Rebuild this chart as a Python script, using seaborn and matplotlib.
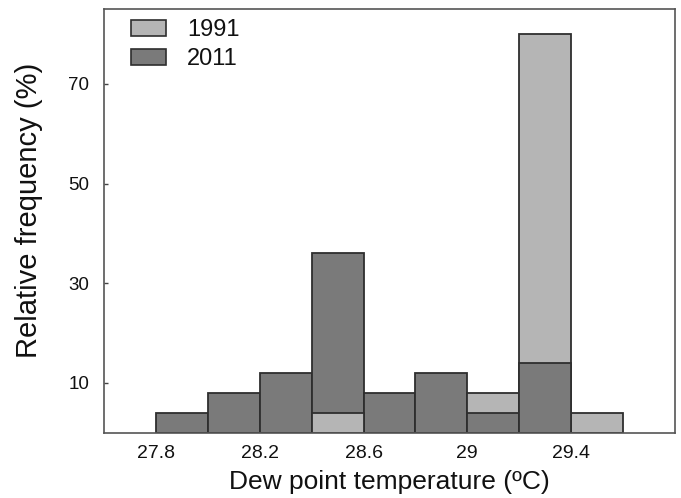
import numpy as np
import pandas as pd
import matplotlib
matplotlib.use("Agg")
import matplotlib.pyplot as plt
from matplotlib.patches import Patch
import seaborn as sns

# ---- data ----
bin_left = [27.8, 28.0, 28.2, 28.4, 28.6, 28.8, 29.0, 29.2, 29.4]
bin_width = 0.2
freq_1991 = [0, 0, 0, 4, 0, 0, 8, 80, 4]
freq_2011 = [4, 8, 12, 36, 8, 12, 4, 14, 0]
years = ["1991", "2011"]
xticks = [27.8, 28.2, 28.6, 29.0, 29.4]
xtick_labels = ["27.8", "28.2", "28.6", "29", "29.4"]
yticks = [10, 30, 50, 70]

light = "#b5b5b5"
dark = "#7a7a7a"
edge = "#2e2e2e"

sns.set_style("white")
plt.rcParams["font.family"] = ["Liberation Sans", "DejaVu Sans"]

rows = []
for i, b in enumerate(bin_left):
    vals = {"1991": freq_1991[i], "2011": freq_2011[i]}
    order = sorted(years, key=lambda y: -vals[y])  # taller in back
    for layer, y in enumerate(order):
        if vals[y] > 0:
            rows.append({"center": b + bin_width / 2, "year": y,
                         "value": vals[y], "layer": layer})
df = pd.DataFrame(rows)
edges = bin_left + [bin_left[-1] + bin_width]

fig = plt.figure(figsize=(6.81, 4.98), dpi=100)
ax = fig.add_axes([104.3 / 681, 1 - 432.5 / 498, (674.7 - 104.3) / 681, (432.5 - 9.3) / 498])

pal = {"1991": light, "2011": dark}
for layer in [0, 1]:
    sub = df[df["layer"] == layer]
    sns.histplot(data=sub, x="center", weights="value", hue="year",
                 hue_order=years, palette=pal, bins=edges, multiple="layer",
                 alpha=1, edgecolor=edge, linewidth=1.3, legend=False, ax=ax)

ax.set_xlim(27.6, 29.8)
ax.set_ylim(0, 85)
ax.set_xticks(xticks)
ax.set_xticklabels(xtick_labels)
ax.set_yticks(yticks)
ax.tick_params(axis="x", length=0, pad=9, labelsize=14, colors="#111111")
ax.tick_params(axis="y", direction="in", length=3, width=1, pad=11,
               labelsize=13.5, colors="#444444", labelcolor="#111111", left=True)
ax.set_xlabel("Dew point temperature (ºC)", fontsize=19, color="#111111", labelpad=6)
ax.set_ylabel("Relative frequency (%)", fontsize=21, color="#111111")
ax.yaxis.set_label_coords(-0.107, 0.526)
for s in ax.spines.values():
    s.set_color("#555555")
    s.set_linewidth(1.2)
    s.set_visible(True)

handles = [Patch(facecolor=pal[y], edgecolor=edge, linewidth=1.2) for y in years]
leg = ax.legend(handles, years, loc="upper left", frameon=False, fontsize=17,
                handlelength=1.5, handleheight=0.65, handletextpad=0.9,
                labelspacing=0.3, borderaxespad=0, borderpad=0,
                bbox_to_anchor=(130.7 / 681, 1 - 19 / 498),
                bbox_transform=fig.transFigure)
for t in leg.get_texts():
    t.set_color("#111111")

fig.savefig("out.png", dpi=100)
